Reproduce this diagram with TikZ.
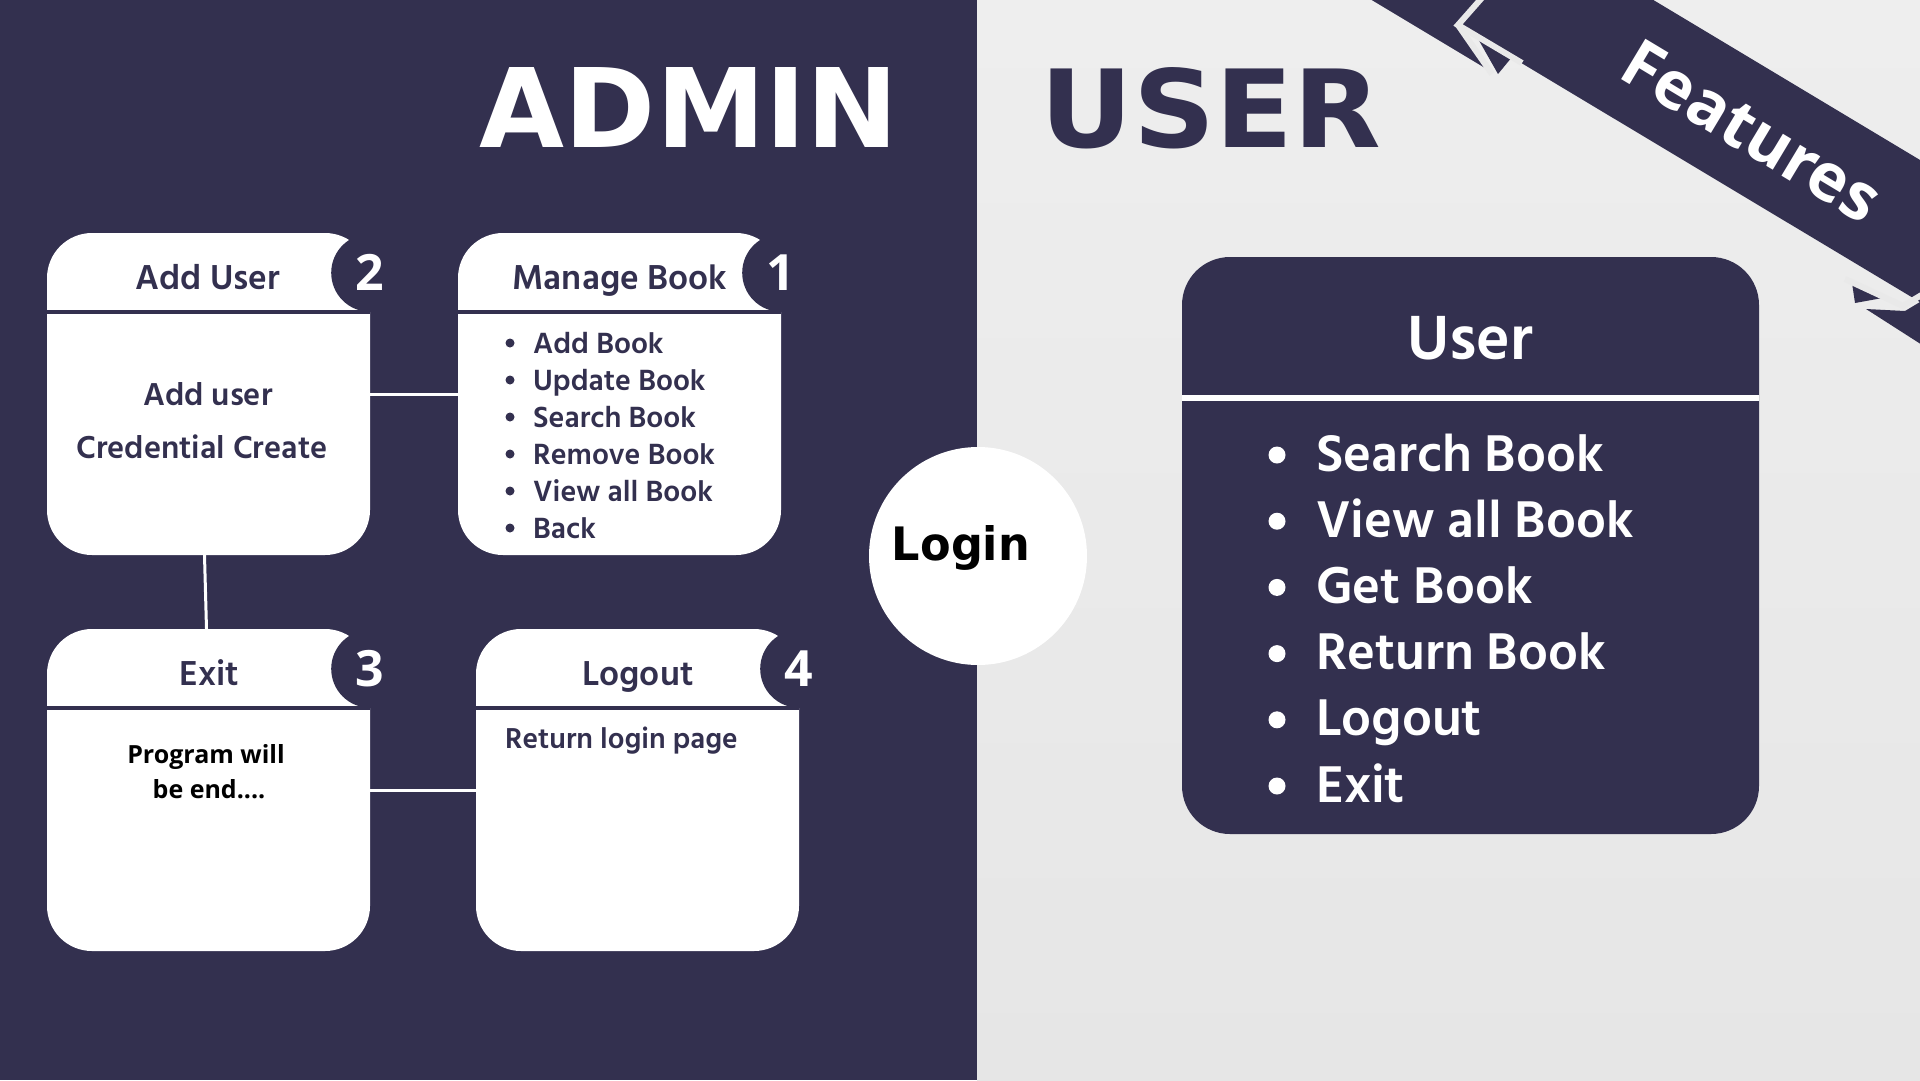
\documentclass[tikz,border=0pt]{standalone}
\usepackage{fontspec}
\usepackage{graphicx}
\setmainfont{Hind Siliguri}
\newfontfamily\heavyfont{DejaVu Sans}
\newfontfamily\osfont{Open Sans}
\usetikzlibrary{calc}
\definecolor{navy}{HTML}{33304F}
\definecolor{paper}{HTML}{E9E9E9}
\definecolor{paperlight}{HTML}{EEEEEE}
\definecolor{paperdark}{HTML}{E6E6E6}
\tikzset{
  cardbox/.style={fill=white,rounded corners=45pt,minimum width=323pt,minimum height=322pt,inner sep=0pt},
  numdisc/.style={circle,fill=navy,minimum size=78pt,inner sep=0pt,text=white,font=\osfont\bfseries\fontsize{50}{50}\selectfont},
  cardtitle/.style={anchor=base,text=navy,inner sep=0pt,font=\bfseries\fontsize{35.5}{35.5}\selectfont},
  cardtext/.style={anchor=base,text=navy,inner sep=0pt,font=\bfseries\fontsize{30}{30}\selectfont},
  blacktext/.style={anchor=base,text=black,inner sep=0pt,font=\osfont\bfseries\fontsize{25}{25}\selectfont},
  listtext/.style={anchor=base west,text=white,inner sep=0pt,font=\bfseries\fontsize{53}{53}\selectfont},
  divline/.style={draw=navy,line width=4pt},
  conn/.style={draw=white,line width=3pt},
  bulletdot/.style={circle,fill=#1,inner sep=0pt},
  gapline/.style={draw=paper,line width=6pt,line join=miter},
}
\begin{document}
\begin{tikzpicture}[x=1pt,y=-1pt]
\useasboundingbox (0,0) rectangle (1920,1080);
% backgrounds
\fill[navy] (0,0) rectangle (977,1080);
\shade[top color=paperlight,bottom color=paperdark] (977,0) rectangle (1920,1080);

% ribbon
\begin{scope}
\clip (977,0) rectangle (1920,1080);
% left tail
\fill[navy] (1300,-43) -- (1300,-150) -- (1700,-150) -- (1458,25) -- (1490,71) -- cycle;
\fill[navy] (1477,37) -- (1512,57) -- (1498,74) -- cycle;
% right tail
\fill[navy] (1852,283) -- (1888,297) -- (1855,303) -- cycle;
\fill[navy] (1866,309) -- (1905,311) -- (1930,296) -- (1930,350) -- cycle;
% main band
\fill[navy] (1540,-68) -- (2150,298) -- (2150,440) -- (1458,25) -- cycle;
\draw[gapline] (1495,-17) -- (1458,25) -- (1522,63);
\draw[gapline] (1458,25) -- (1492,74);
\draw[gapline] (1845,279) -- (1903,306) -- (1930,290);
\end{scope}
\node[rotate=-31,text=white,inner sep=0pt] (feat) at (1752,131) {\osfont\bfseries\fontsize{66}{66}\selectfont Features};

% headings
\node[anchor=base,inner sep=0pt,text=white] (admin) at (689,147) {\resizebox{418pt}{80pt}{\heavyfont\bfseries ADMIN}};
\node[anchor=base,inner sep=0pt,text=navy] (user) at (1211,147) {\resizebox{340pt}{80pt}{\heavyfont\bfseries USER}};

% cards
\node[cardbox] (c2) at (208.5,394) {};
\node[cardbox] (c1) at (619.5,394) {};
\node[cardbox] (c3) at (208.5,790) {};
\node[cardbox] (c4) at (637.5,790) {};

% connectors
\draw[conn] (c2.east) -- (c1.west);
\draw[conn] ($(c2.south)+(-4,0)$) -- ($(c3.north)+(-2,0)$);
\draw[conn] (c3.east) -- (c4.west);

% dividers, number discs
\foreach \c/\n in {c2/2,c1/1,c3/3,c4/4}{
  \draw[divline] ($(\c.north west)+(0,79)$) -- ($(\c.north east)+(0,79)$);
  \node[numdisc] (n\n) at ($(\c.north east)+(0,40)$) {\n};
}

% card titles
\node[cardtitle] (t2) at (208,289) {Add User};
\node[cardtitle] (t1) at (620,289) {Manage Book};
\node[cardtitle] (t3) at (209,685) {Exit};
\node[cardtitle] (t4) at (638,685) {Logout};

% card bodies
\node[cardtext,font=\bfseries\fontsize{32.5}{32.5}\selectfont] (b2a) at (208,405) {Add user};
\node[cardtext,font=\bfseries\fontsize{32.5}{32.5}\selectfont] (b2b) at (202,458) {Credential Create};
\foreach \t [count=\i] in {Add Book,Update Book,Search Book,Remove Book,View all Book,Back}{
  \pgfmathsetmacro{\yb}{353+37*(\i-1)}
  \node[bulletdot=navy,minimum size=9pt] (mbd\i) at (510,\yb-10) {};
  \node[cardtext,anchor=base west] (mb\i) at (533,\yb) {\t};
}
\node[blacktext] (b3a) at (206,763) {Program will};
\node[blacktext] (b3b) at (209,798) {be end....};
\node[cardtext,anchor=base west,font=\bfseries\fontsize{29.5}{29.5}\selectfont] (b4) at (505,748) {Return login page};

% login
\node[circle,fill=white,minimum size=218pt,inner sep=0pt] (login) at (978,556) {};
\node[anchor=base,inner sep=0pt] (logintxt) at (961,560) {\resizebox{138pt}{35pt}{\heavyfont\bfseries Login}};

% user box
\node[fill=navy,rounded corners=48pt,minimum width=577pt,minimum height=577pt,inner sep=0pt] (ubox) at (1470.5,545.5) {};
\draw[white,line width=6pt] (ubox.west |- 0,398) -- (ubox.east |- 0,398);
\node[anchor=base,inner sep=0pt,text=white,font=\bfseries\fontsize{64}{64}\selectfont] (uhead) at (1470,359) {User};
\foreach \t [count=\i] in {Search Book,View all Book,Get Book,Return Book,Logout,Exit}{
  \pgfmathsetmacro{\yb}{471+66.2*(\i-1)}
  \node[bulletdot=white,minimum size=17pt] (ubd\i) at (1277,\yb-16) {};
  \node[listtext] (ul\i) at (1316,\yb) {\t};
}
\end{tikzpicture}
\end{document}
